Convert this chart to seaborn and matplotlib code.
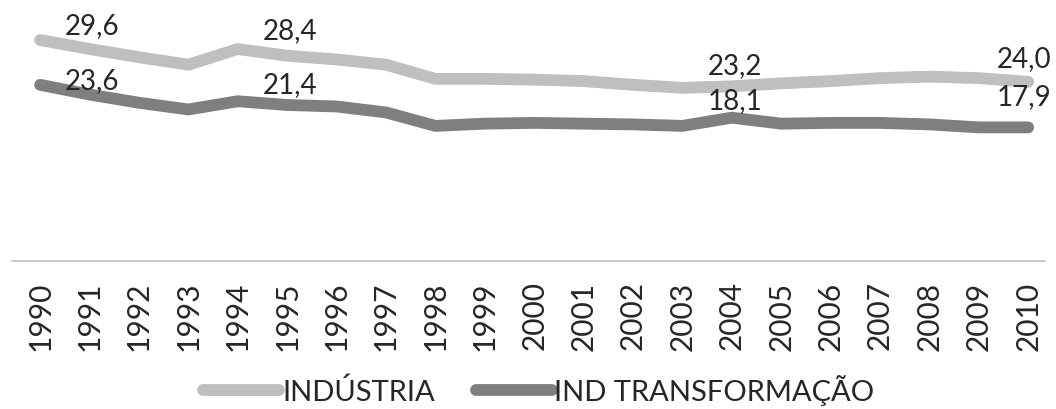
import matplotlib
matplotlib.use("Agg")
import matplotlib.pyplot as plt
import seaborn as sns
import pandas as pd
from matplotlib.lines import Line2D

years = list(range(1990, 2011))
industria = [29.6, 28.4, 27.3, 26.3, 28.4, 27.5, 27.0, 26.3, 24.4, 24.4, 24.3,
             24.1, 23.6, 23.2, 23.4, 23.8, 24.1, 24.5, 24.7, 24.5, 24.0]
transformacao = [23.6, 22.3, 21.2, 20.3, 21.4, 20.9, 20.7, 19.9, 18.1, 18.4, 18.5,
                 18.4, 18.3, 18.1, 19.2, 18.4, 18.5, 18.5, 18.3, 17.9, 17.9]
series_names = ["INDÚSTRIA", "IND TRANSFORMAÇÃO"]
label_years = [1990, 1994, 2003, 2010]

sns.set_theme(style="white")
plt.rcParams["font.family"] = ["Lato", "DejaVu Sans"]

df = pd.DataFrame({
    "pos": list(range(len(years))) * 2,
    "valor": industria + transformacao,
    "serie": [series_names[0]] * len(years) + [series_names[1]] * len(years),
})

colors = {series_names[0]: "#bfbfbf", series_names[1]: "#7f7f7f"}

fig = plt.figure(figsize=(10.56, 4.10), dpi=100)
ax = fig.add_axes([12 / 1056, 148 / 410, 1033 / 1056, 262 / 410])

sns.lineplot(data=df, x="pos", y="valor", hue="serie", palette=colors,
             linewidth=8.5, ax=ax, legend=False, solid_capstyle="round")

ax.set_xlim(-0.57, 20.34)
ax.set_ylim(0, 35.1)
ax.set_xticks(range(len(years)))
ax.set_xticklabels([str(y) for y in years], rotation=90, fontsize=21.5, color="#262626")
ax.tick_params(axis="x", length=0, pad=14)
ax.set_yticks([])
ax.set_xlabel("")
ax.set_ylabel("")
for s in ["top", "left", "right"]:
    ax.spines[s].set_visible(False)
ax.spines["bottom"].set_color("#bfbfbf")
ax.spines["bottom"].set_linewidth(1.2)

# data labels
offs_ind = [(52, 15), (52, 19), (53, 23), (-4, 24)]
offs_tr = [(52, 5), (52, 17), (53, 26), (-4, 31)]
for yr, o1, o2 in zip(label_years, offs_ind, offs_tr):
    i = years.index(yr)
    for vals, o in ((industria, o1), (transformacao, o2)):
        ax.annotate(f"{vals[i]:.1f}".replace(".", ","), (i, vals[i]),
                    xytext=o, textcoords="offset pixels", ha="center", va="center",
                    fontsize=20, color="#262626")

handles = [Line2D([0], [0], color=colors[n], lw=8.5, solid_capstyle="round") for n in series_names]
fig.legend(handles, series_names, loc="center", bbox_to_anchor=(539 / 1056, 19 / 410),
           ncol=2, frameon=False, fontsize=21, handlelength=2.6, handletextpad=0.1,
           columnspacing=1.4, labelcolor="#262626")

fig.savefig("out.png", dpi=100)
